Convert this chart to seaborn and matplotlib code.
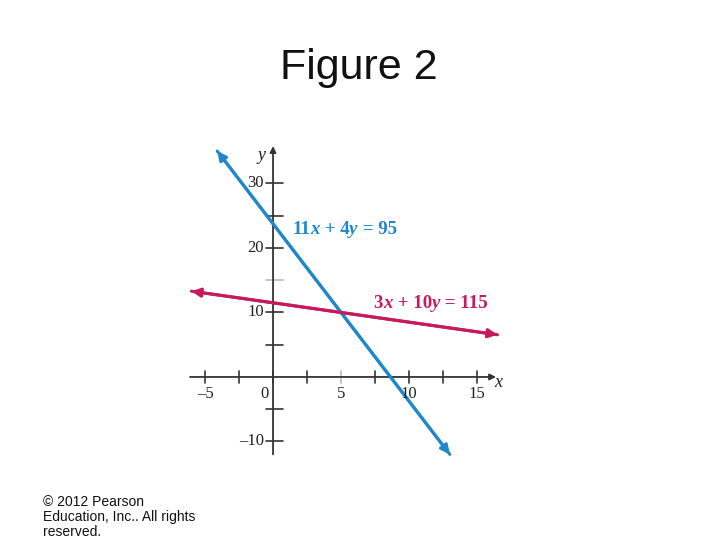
import numpy as np
import pandas as pd
import seaborn as sns
import matplotlib
matplotlib.use("Agg")
import matplotlib.pyplot as plt

# Lines a*x + b*y = c, drawn between the arrow tips
eq_names = ["11x + 4y = 95", "3x + 10y = 115"]
eq_a = [11, 3]
eq_b = [4, 10]
eq_c = [95, 115]
eq_x_ends = [[-4.1, 13.0], [-6.0, 16.5]]
eq_colors = ["#1f87cc", "#c61a5c"]
eq_label_pos = [(1.4, 22.8), (7.4, 11.4)]
# label pieces: (text, italic?)
eq_label_parts = [
    [("11", False), ("x", True), (" + 4", False), ("y", True), (" = 95", False)],
    [("3", False), ("x", True), (" + 10", False), ("y", True), (" = 115", False)],
]

# Axis ticks and labels
x_ticks = [-5, -2.5, 0, 2.5, 5, 7.5, 10, 12.5, 15]
x_tick_labels = ["\u20135", "0", "5", "10", "15"]
x_tick_label_vals = [-5, 0, 5, 10, 15]
y_ticks = [-10, -5, 5, 10, 15, 20, 25, 30]
y_tick_labels = ["30", "20", "10", "\u201310"]
y_tick_label_vals = [30, 20, 10, -10]

sns.set_style("white")
plt.rcParams["font.family"] = ["Liberation Sans", "DejaVu Sans"]

fig = plt.figure(figsize=(7.2, 5.4), dpi=100)
ax = fig.add_axes([0.2621, 0.1526, 0.4344, 0.5793])
ax.set_xlim(-6.2, 16.8)
ax.set_ylim(-12.5, 36)

rows = []
for name, a, b, c, xs in zip(eq_names, eq_a, eq_b, eq_c, eq_x_ends):
    for x in xs:
        rows.append({"eq": name, "x": x, "y": (c - a * x) / b})
df = pd.DataFrame(rows)

# axes through the origin
for s in ["top", "right", "bottom", "left"]:
    ax.spines[s].set_visible(False)
ax.annotate("", xy=(16.4, 0), xytext=(-6.1, 0),
            arrowprops=dict(arrowstyle="-|>", color="#333333", lw=1.3,
                            mutation_scale=9, shrinkA=0, shrinkB=0))
ax.annotate("", xy=(0, 35.8), xytext=(0, -12),
            arrowprops=dict(arrowstyle="-|>", color="#333333", lw=1.3,
                            mutation_scale=9, shrinkA=0, shrinkB=0))

for t in x_ticks:
    col = "#bbbbbb" if t == 5 else "#333333"
    ax.plot([t, t], [-0.9, 0.9], color=col, lw=1.2)
for t in y_ticks:
    col = "#bbbbbb" if t == 15 else "#333333"
    ax.plot([-0.5, 0.7], [t, t], color=col, lw=1.2)

ax.set_xticks([])
ax.set_yticks([])

sns.lineplot(data=df, x="x", y="y", hue="eq", palette=eq_colors,
             linewidth=2.2, legend=False, ax=ax, sort=False)

for (name, a, b, c, xs), col in zip(zip(eq_names, eq_a, eq_b, eq_c, eq_x_ends), eq_colors):
    p0 = (xs[0], (c - a * xs[0]) / b)
    p1 = (xs[1], (c - a * xs[1]) / b)
    ax.annotate("", xy=p1, xytext=p0,
                arrowprops=dict(arrowstyle="<|-|>", color=col, lw=2.2,
                                mutation_scale=13, shrinkA=0, shrinkB=0))

# equation labels, bold serif with italic bold variables
for parts, (lx, ly), col in zip(eq_label_parts, eq_label_pos, eq_colors):
    prev = None
    for txt, ital in parts:
        kw = dict(color=col, fontsize=13.6, family="Liberation Serif",
                  weight="bold", style="italic" if ital else "normal")
        if prev is None:
            prev = ax.text(lx, ly, txt, ha="left", va="center", **kw)
        else:
            prev = ax.annotate(txt, xy=(1, 0), xycoords=prev,
                               ha="left", va="bottom", **kw)

tick_font = dict(family="Liberation Serif", fontsize=12, color="#222222")
for lab, v in zip(x_tick_labels, x_tick_label_vals):
    xx = -0.65 if v == 0 else v
    ax.text(xx, -1.4, lab, ha="center", va="top", **tick_font)
for lab, v in zip(y_tick_labels, y_tick_label_vals):
    ax.text(-0.65, v, lab, ha="right", va="center", **tick_font)

ax.text(16.55, -0.9, "x", ha="center", va="center", style="italic",
        family="Liberation Serif", fontsize=13, color="#222222")
ax.text(-0.85, 34.3, "y", ha="center", va="center", style="italic",
        family="Liberation Serif", fontsize=13, color="#222222")

fig.text(0.499, 0.874, "Figure 2", ha="center", va="center", fontsize=31,
         color="#111111")
fig.text(0.06, 0.084, "\u00a9 2012 Pearson\nEducation, Inc.. All rights\nreserved.",
         ha="left", va="top", fontsize=10, linespacing=1.1, color="#111111")

fig.savefig("out.png", dpi=100)
